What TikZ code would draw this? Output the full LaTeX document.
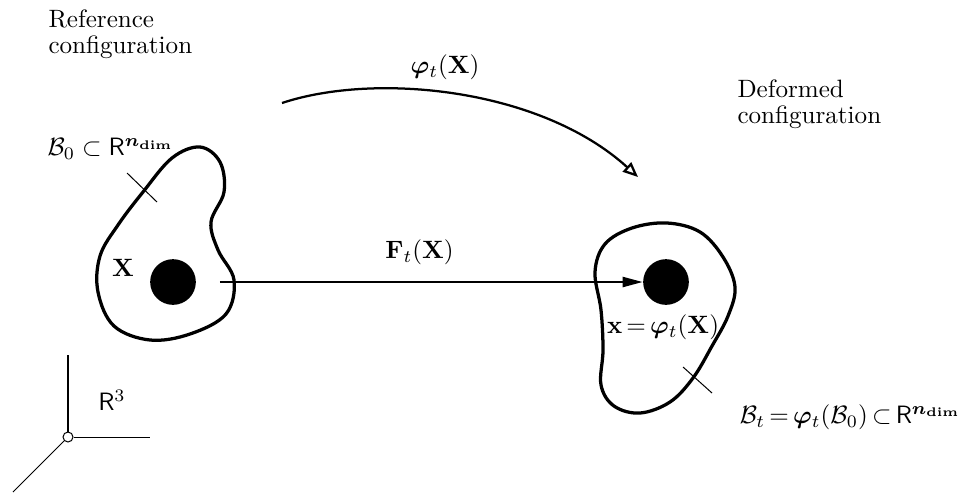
\documentclass[tikz,border=0pt]{standalone}
\usepackage{amsmath,amssymb}
\usepackage{bm}
\usetikzlibrary{arrows.meta}

\tikzset{
  body/.style={line width=1.3pt},
  cut/.style={line width=0.4pt},
  particle/.style={circle, fill=black, inner sep=0pt, minimum size=0.64cm},
  caption/.style={align=left, inner sep=0pt, font={\fontsize{10}{10.5}\selectfont}}
}

\begin{document}
\begin{tikzpicture}[x=0.014cm, y=-0.014cm]
\useasboundingbox (0,0) rectangle (963,493);
% Reference configuration (left)
\node[caption, anchor=north west] (reftitle) at (48,9) {Reference\\configuration};
\node[anchor=west, inner sep=0pt] (refset) at (47,149) {$\mathcal{B}_0 \subset \mathsf{R}^{\bm{n}_{\mathbf{dim}}}$};
\draw[body] plot[smooth cycle, tension=0.6] coordinates {(200,147) (220,162) (224,192) (211,222) (218,250) (234,280) (226,314) (190,334) (150,340) (114,326) (98,292) (100,256) (118,225) (143,192) (172,158)};
\draw[cut] (127,173) -- (157,202);
\node[particle] (X0) at (173,282) {};
\node (Xlabel) at (123,268) {$\mathbf{X}$};
% Deformed configuration (right)
\node[caption, anchor=north west] (deftitle) at (737,79) {Deformed\\configuration};
\draw[body] plot[smooth cycle, tension=0.6] coordinates {(667,223) (700,232) (723,257) (735,287) (728,316) (712,346) (693,378) (670,402) (640,413) (614,406) (601,385) (603,350) (601,310) (595,272) (605,244) (632,228)};
\draw[cut] (683,367) -- (712,393);
\node[particle] (x0) at (666,282) {};
\node (xlabel) at (663,327) {$\mathbf{x}\,{=}\,\bm{\varphi}_t(\mathbf{X})$};
\node[anchor=east, inner sep=0pt] (defset) at (961,417) {$\thickmuskip=3mu\medmuskip=2mu \mathcal{B}_t = \bm{\varphi}_t(\mathcal{B}_0) \subset \mathsf{R}^{\bm{n}_{\mathbf{dim}}}$};
% Deformation gradient
\draw[line width=0.9pt, -{Triangle[length=8pt, width=4pt]}, shorten <=0.33cm] (X0.east) -- (x0.west)
  node[midway, above=3pt] (Flabel) {$\mathbf{F}_t(\mathbf{X})$};
% Motion
\coordinate (mapstart) at (282,103);
\coordinate (mapend) at (638,177);
\draw[line width=0.9pt, -{Triangle[open, length=6pt, width=5pt]}] (mapstart) .. controls (375,72) and (540,88) .. (mapend);
\node (maplabel) at (445,67) {$\bm{\varphi}_t(\mathbf{X})$};
% Ambient space
\node[circle, draw, cut, fill=white, inner sep=0pt, minimum size=0.14cm] (O) at (68,437) {};
\coordinate (e1) at (150,437);
\coordinate (e2) at (68,355);
\coordinate (e3) at (13,492);
\draw[cut] (O) -- (e1);
\draw[cut] (O) -- (e2);
\draw[cut] (O) -- (e3);
\node (space) at (112,400) {$\mathsf{R}^3$};
\end{tikzpicture}
\end{document}
